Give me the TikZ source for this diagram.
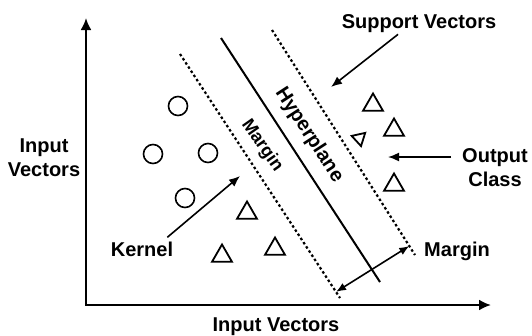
\documentclass[tikz,border=0pt]{standalone}
\usepackage{fontspec}
\setmainfont{Liberation Sans}
\usetikzlibrary{arrows.meta,shapes.geometric,calc}
\tikzset{
    lbl/.style={font=\fontsize{20}{24}\selectfont\bfseries, align=center, inner sep=2pt},
    sidelbl/.style={font=\fontsize{#1}{#1}\selectfont\bfseries, inner sep=0pt},
    pt/.style={draw, circle, line width=1.6pt, minimum size=19pt, inner sep=0pt},
    tri/.style={draw, regular polygon, regular polygon sides=3, line width=1.8pt,
        minimum size=23pt, inner sep=0pt},
    dots/.style={line width=2.2pt, dash pattern=on 2.5pt off 2.5pt},
    ptr/.style={line width=1.6pt, -{Latex[length=11pt,width=9pt]}},
}

\begin{document}
\begin{tikzpicture}[x=1pt,y=-1pt]
    \useasboundingbox (0,0) rectangle (532,335);
    % axes
    \coordinate (o) at (86,305);
    \coordinate (ytop) at (86,18);
    \coordinate (xend) at (491,305);
    \draw[line width=2.2pt, {Latex[length=12pt,width=11pt]}-{Latex[length=12pt,width=11pt]}]
        (ytop) -- (o) -- (xend);
    % hyperplane and margins
    \coordinate (lm1) at (180,54);
    \coordinate (lm2) at (340,298);
    \coordinate (hp1) at (221,38);
    \coordinate (hp2) at (380,282);
    \coordinate (rm1) at (272,30);
    \coordinate (rm2) at (415,255);
    \draw[dots] (lm1) -- (lm2);
    \draw[dots] (rm1) -- (rm2);
    \draw[line width=2pt] (hp1) -- (hp2);
    \node[sidelbl=20, rotate=-57] (hyp) at (309,135) {Hyperplane};
    \node[sidelbl=18, rotate=-55] (mrg) at (262,146) {Margin};
    % classes
    \foreach \i/\x/\y in {1/178/106,2/153/154,3/208/153,4/185/198}{%
        \node[pt] (c\i) at (\x,\y) {};
    }
    \foreach \i/\x/\y in {1/373/105,2/394/130,3/394/185,4/247/213,5/222/256,6/275/249}{%
        \node[tri] (t\i) at (\x,\y) {};
    }
    \node[tri, minimum size=16pt, rotate=-167.5] (t7) at (359.3,138.3) {};
    % labels
    \node[lbl] (iv) at (44,158) {Input\\Vectors};
    \node[lbl, anchor=base] (ivx) at (276,331) {Input Vectors};
    \node[lbl, anchor=base] (sv) at (419,28) {Support Vectors};
    \node[lbl] (oc) at (495,168) {Output\\Class};
    \node[lbl, anchor=base] (kn) at (142,256) {Kernel};
    \node[lbl, anchor=base] (mg) at (457,256) {Margin};
    \coordinate (svtip) at (331,87);
    \coordinate (octip) at (388,157);
    \coordinate (kntip) at (240,176);
    \draw[ptr] ([xshift=-21pt]sv.south) -- (svtip);
    \draw[ptr] ([shift={(-9pt,11pt)}]oc.west) -- (octip);
    \draw[ptr] ([shift={(-8pt,2pt)}]kn.north east) -- (kntip);
    \draw[line width=1.6pt, {Latex[length=10pt,width=8pt]}-{Latex[length=10pt,width=8pt]}]
        ($(lm1)!0.975!(lm2)$) -- ($(rm1)!0.96!(rm2)$);
\end{tikzpicture}
\end{document}
